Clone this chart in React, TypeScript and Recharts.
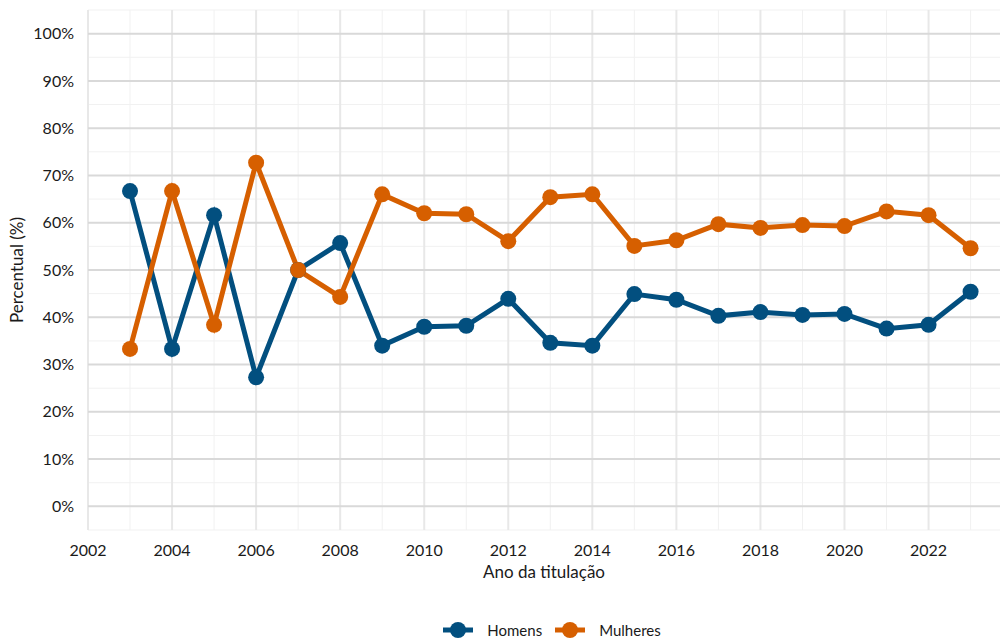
import { LineChart, Line, XAxis, YAxis, CartesianGrid, Legend } from 'recharts';

const colors = {
  homens: "#024F7F",
  mulheres: "#D65F00",
  text: "#1a1a1a",
};

const years = [2003, 2004, 2005, 2006, 2007, 2008, 2009, 2010, 2011, 2012, 2013, 2014, 2015, 2016, 2017, 2018, 2019, 2020, 2021, 2022, 2023];
const homens = [66.7, 33.3, 61.6, 27.3, 50, 55.7, 34.0, 38.0, 38.2, 43.9, 34.6, 34.0, 44.9, 43.7, 40.3, 41.1, 40.5, 40.7, 37.6, 38.4, 45.4];
const mulheres = [33.3, 66.7, 38.4, 72.7, 50, 44.3, 66.0, 62.0, 61.8, 56.1, 65.4, 66.0, 55.1, 56.3, 59.7, 58.9, 59.5, 59.3, 62.4, 61.6, 54.6];

const xTicks = [2002, 2004, 2006, 2008, 2010, 2012, 2014, 2016, 2018, 2020, 2022];
const xMinor = [2003, 2005, 2007, 2009, 2011, 2013, 2015, 2017, 2019, 2021, 2023];
const yTicks = [0, 10, 20, 30, 40, 50, 60, 70, 80, 90, 100];
const yMinor = [-5, 5, 15, 25, 35, 45, 55, 65, 75, 85, 95, 105];

const data = years.map((ano, i) => ({ ano, Homens: homens[i], Mulheres: mulheres[i] }));

const font = "Lato, 'Open Sans', sans-serif";

const LegendContent = () => (
  <div style={{ height: 49, display: 'flex', justifyContent: 'center', alignItems: 'flex-end', fontFamily: font, fontSize: 15, color: colors.text, paddingLeft: 104 }}>
    {[['Homens', colors.homens], ['Mulheres', colors.mulheres]].map(([name, c], i) => (
      <div key={name} style={{ display: 'flex', alignItems: 'center', marginRight: i === 0 ? 13 : 0, lineHeight: '18px' }}>
        <svg width={30} height={18} style={{ marginRight: 14 }}>
          <line x1={0} y1={9} x2={30} y2={9} stroke={c} strokeWidth={5} />
          <circle cx={15} cy={9} r={8} fill={c} />
        </svg>
        <span>{name}</span>
      </div>
    ))}
  </div>
);

export default function App() {
  return (
    <div style={{ position: 'absolute', left: 0, top: 0, background: '#fff' }}>
      <LineChart width={1002} height={639} data={data} margin={{ top: 10, right: 2, bottom: 0, left: 0 }}>
        <CartesianGrid horizontalValues={yMinor} verticalValues={xMinor} stroke="#f1f1f1" strokeWidth={1} />
        <CartesianGrid horizontal={false} verticalValues={xTicks} stroke="#e8e8e8" strokeWidth={2} />
        <CartesianGrid vertical={false} horizontalValues={yTicks} stroke="#d9d9d9" strokeWidth={2} />
        <XAxis
          dataKey="ano"
          type="number"
          domain={[2002, 2023.7]}
          ticks={xTicks}
          axisLine={false}
          tickLine={false}
          height={60}
          tick={{ fontSize: 16, fill: colors.text, fontFamily: font }}
          tickMargin={9}
          label={{ value: 'Ano da titulação', position: 'insideBottom', offset: 12, style: { fontSize: 17, fill: colors.text, fontFamily: font } }}
        />
        <YAxis
          type="number"
          domain={[-5, 105]}
          ticks={yTicks}
          tickFormatter={(v: number) => `${v}%`}
          axisLine={false}
          tickLine={false}
          width={88}
          tick={{ fontSize: 16, fill: colors.text, fontFamily: font }}
          tickMargin={8}
          label={{ value: 'Percentual (%)', angle: -90, position: 'insideLeft', offset: 17, style: { fontSize: 17, fill: colors.text, fontFamily: font, textAnchor: 'middle' } }}
        />
        <Legend verticalAlign="bottom" content={<LegendContent />} />
        <Line dataKey="Homens" stroke={colors.homens} strokeWidth={5} dot={{ r: 8, fill: colors.homens, stroke: colors.homens, strokeWidth: 0 }} isAnimationActive={false} />
        <Line dataKey="Mulheres" stroke={colors.mulheres} strokeWidth={5} dot={{ r: 8, fill: colors.mulheres, stroke: colors.mulheres, strokeWidth: 0 }} isAnimationActive={false} />
      </LineChart>
    </div>
  );
}
